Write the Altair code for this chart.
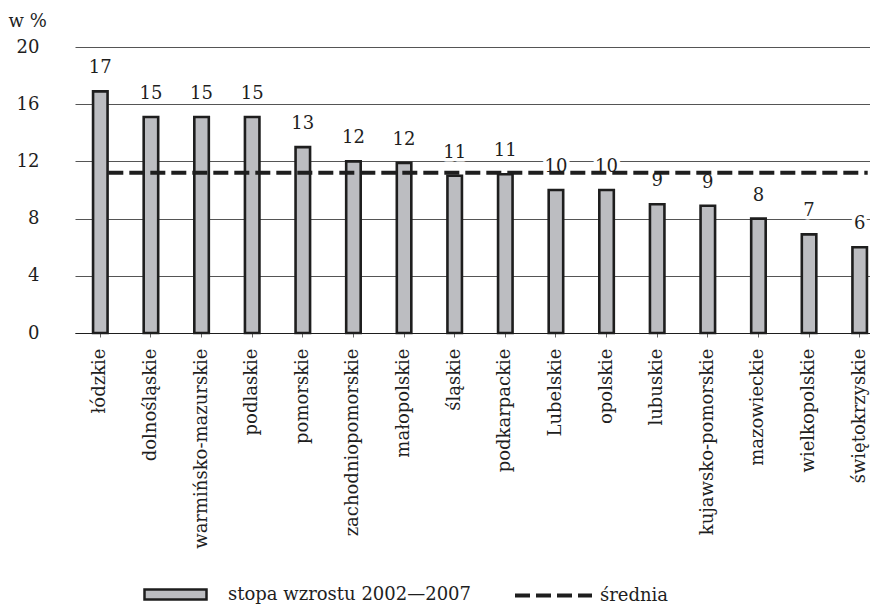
import altair as alt
import pandas as pd

# ---- data ----
regions = ["łódzkie", "dolnośląskie", "warmińsko-mazurskie", "podlaskie", "pomorskie",
           "zachodniopomorskie", "małopolskie", "śląskie", "podkarpackie", "Lubelskie",
           "opolskie", "lubuskie", "kujawsko-pomorskie", "mazowieckie", "wielkopolskie",
           "świętokrzyskie"]
growth = [16.9, 15.1, 15.1, 15.1, 13.0, 12.0, 11.9, 11.0, 11.1, 10.0,
          10.0, 9.0, 8.9, 8.0, 6.9, 6.0]
value_labels = ["17", "15", "15", "15", "13", "12", "12", "11", "11", "10",
                "10", "9", "9", "8", "7", "6"]
mean_value = 11.2
y_ticks = [0, 4, 8, 12, 16, 20]
bar_series = "stopa wzrostu 2002—2007"
mean_series = "średnia"
y_title = "w %"

df = pd.DataFrame({"region": regions, "growth": growth, "label": value_labels,
                   "seria": [bar_series] * len(regions)})
mean_df = pd.DataFrame({"region": regions, "growth": [mean_value] * len(regions),
                        "seria": [mean_series] * len(regions)})

FONT = "DejaVu Serif"
INK = "#1e1e1e"
FS = 18

x_enc = alt.X("region:N", sort=regions,
              scale=alt.Scale(paddingInner=0, paddingOuter=0, range=[0, 810]),
              axis=alt.Axis(title=None, labelAngle=270, labelAlign="right",
                            labelBaseline="middle", labelPadding=11, labelFont=FONT,
                            labelFontSize=FS, labelColor=INK, labelLimit=400,
                            tickSize=4, tickColor="#666", tickWidth=1,
                            domain=True, domainColor=INK, domainWidth=1, grid=False))

y_axis = alt.Axis(values=y_ticks, title=y_title, titleAngle=0, titleX=-67, titleY=-26,
                  titleAlign="left", titleBaseline="middle", titleFont=FONT,
                  titleFontSize=FS, titleFontWeight="normal", titleColor=INK,
                  labelFont=FONT, labelFontSize=FS, labelColor=INK, labelPadding=36,
                  ticks=False, domain=False, grid=True, gridColor="#555", gridWidth=1)
y_scale = alt.Scale(domain=[0, 20], nice=False)


def y_enc():
    return alt.Y("growth:Q", scale=y_scale, axis=y_axis)


bars = alt.Chart(df).mark_bar(width=14.5, stroke=INK, strokeWidth=2.6, opacity=1).encode(
    x=x_enc,
    y=y_enc(),
    color=alt.Color("seria:N",
                    scale=alt.Scale(domain=[bar_series], range=["#bcbdc1"]),
                    legend=alt.Legend(orient="none", legendX=68, legendY=515, title=None,
                                      symbolType="M-1,-0.16H1V0.16H-1Z", symbolSize=3844,
                                      symbolStrokeColor=INK, symbolStrokeWidth=2.5,
                                      symbolOpacity=1, labelFont=FONT, labelFontSize=FS,
                                      labelColor=INK, labelOffset=20, labelLimit=600)),
)

halo = alt.Chart(df).mark_text(font=FONT, fontSize=FS, dy=-23, baseline="middle",
                               color="white", stroke="white", strokeWidth=7,
                               strokeJoin="round").encode(
    x=x_enc, y=y_enc(), text="label:N")

labels = alt.Chart(df).mark_text(font=FONT, fontSize=FS, dy=-23, baseline="middle",
                                 color=INK).encode(
    x=x_enc, y=y_enc(), text="label:N")

mean_line = alt.Chart(mean_df).mark_line(color=INK, strokeWidth=4, xOffset=8).encode(
    x=x_enc,
    y=y_enc(),
    strokeDash=alt.StrokeDash("seria:N",
                              scale=alt.Scale(domain=[mean_series], range=[[15, 6]]),
                              legend=alt.Legend(orient="none", legendX=438, legendY=508,
                                                title=None, symbolType="stroke",
                                                symbolSize=5929, symbolStrokeColor=INK,
                                                symbolStrokeWidth=4, labelFont=FONT,
                                                labelFontSize=FS, labelColor=INK,
                                                labelOffset=6, labelLimit=300)),
)

chart = alt.layer(halo, bars, mean_line, labels).resolve_scale(
    color="independent", strokeDash="independent"
).properties(
    width=795,
    height=286,
    autosize=alt.AutoSizeParams(type="none"),
    padding={"left": 67, "top": 39, "right": 0, "bottom": 274},
    background="white",
).configure_view(strokeWidth=0)

chart.save("out.html", embed_options={"renderer": "svg", "actions": False})
